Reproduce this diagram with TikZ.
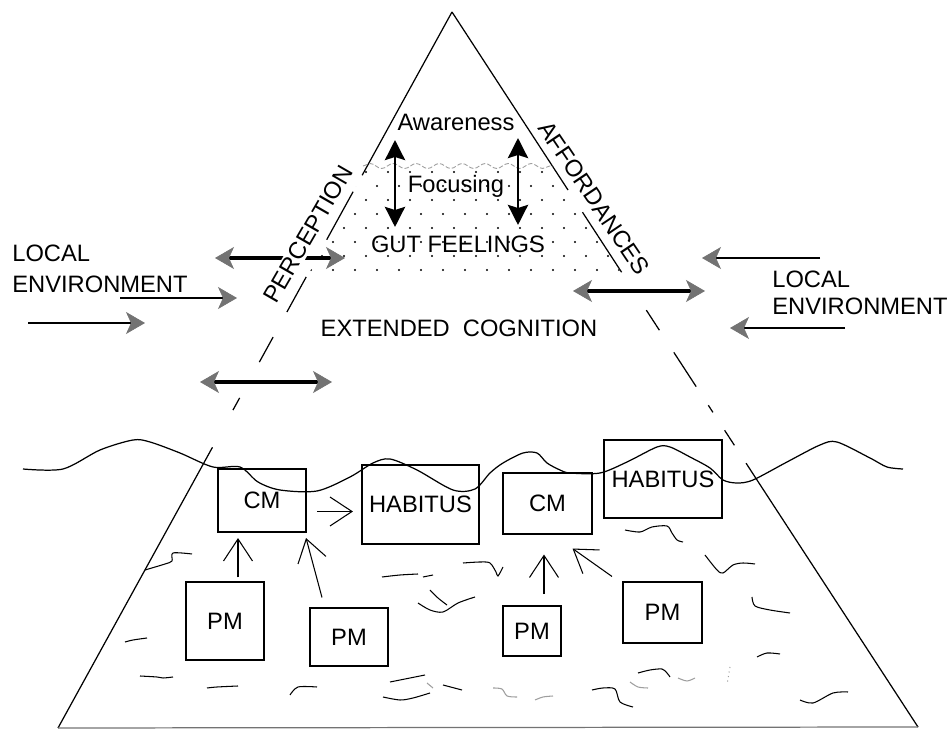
\documentclass[tikz,border=0pt]{standalone}
\usepackage{fontspec}
\setmainfont{Liberation Sans}
\usetikzlibrary{arrows.meta,calc,decorations.pathmorphing}
\definecolor{headgray}{gray}{0.45}
\definecolor{fadegray}{gray}{0.62}

\begin{document}
\begin{tikzpicture}[x=0.02cm,y=-0.02cm,
  lbl/.style={font=\fontsize{13.5}{16}\selectfont, inner sep=0pt},
  box/.style={draw, lbl, line width=0.6pt, minimum width=#1},
  boldbox/.style={box=#1, line width=1.2pt},
  gtip/.tip={Stealth[length=0.38cm,width=0.44cm,inset=0.1cm,color=headgray,line width=0.4pt]},
  btip/.tip={Stealth[length=0.4cm,width=0.4cm,inset=0.06cm]},
  twoway/.style={{gtip}-{gtip}, line width=2.3pt},
  inflow/.style={-{gtip}, line width=1.5pt},
  thinflow/.style={-{gtip}, line width=0.75pt},
  focusarrow/.style={{btip}-{btip}, line width=1.7pt},
  barb/.style={-{Straight Barb[length=0.44cm,width=0.58cm]}, line width=0.6pt},
  edge/.style={line width=0.7pt},
  scrawl/.style={line width=0.6pt},
  fadescrawl/.style={line width=0.6pt, fadegray}]
  \useasboundingbox (0,0) rectangle (948,729);

  % Pyramid outline
  \coordinate (apex) at (452,12);
  \coordinate (bl) at (58,728);
  \coordinate (br) at (918,727);
  \foreach \s/\e in {0/0.228, 0.251/0.318, 0.370/0.419, 0.454/0.489, 0.539/0.556, 0.608/1}
    \draw[edge] ($(apex)!\s!(bl)$) -- ($(apex)!\e!(bl)$);
  \foreach \s/\e in {0/0.249, 0.280/0.364, 0.417/0.445, 0.476/0.524, 0.550/0.560, 0.585/0.606, 0.631/1}
    \draw[edge] ($(apex)!\s!(br)$) -- ($(apex)!\e!(br)$);
  \draw[edge, headgray] (bl) -- (br);

  % Stippled gut-feeling band
  \begin{scope}
    \clip (366,168) -- (554,168) -- (625,279) -- (306,279) -- cycle;
    \foreach \r in {0,...,7}
      \foreach \c in {0,...,15}
        \fill ({300+22*\c+11*mod(\r,2)},{172+14*\r}) circle (0.6pt);
  \end{scope}
  \coordinate (wl) at (363,166);
  \coordinate (wr) at (553,166);
  \draw[fadegray, line width=0.5pt, dash pattern=on 2.5pt off 1.2pt, decorate,
    decoration={snake, amplitude=0.05cm, segment length=0.46cm}] (wl) -- (wr);

  % Top labels
  \node[lbl, anchor=base] (aware) at (456,131) {Awareness};
  \node[lbl, anchor=base] (focus) at (456,193) {Focusing};
  \node[lbl, anchor=base] (gut) at (458,253) {GUT FEELINGS};
  \node[lbl, anchor=base] (ext) at (459,337) {EXTENDED\hspace{0.55em}COGNITION};

  \coordinate (f1a) at (395,140);
  \coordinate (f1b) at (395,227);
  \coordinate (f2a) at (518,138);
  \coordinate (f2b) at (518,225);
  \draw[focusarrow] (f1a) -- (f1b);
  \draw[focusarrow] (f2a) -- (f2b);

  % Flows from the environment
  \coordinate (p1a) at (215,258);
  \coordinate (p1b) at (345,258);
  \coordinate (p2a) at (120,298);
  \coordinate (p2b) at (237,298);
  \coordinate (p3a) at (28,323);
  \coordinate (p3b) at (145,323);
  \coordinate (p4a) at (200,382);
  \coordinate (p4b) at (332,382);
  \draw[twoway] (p1a) -- (p1b);
  \draw[inflow] (p2a) -- (p2b);
  \draw[thinflow] (p3a) -- (p3b);
  \draw[twoway] (p4a) -- (p4b);

  \coordinate (a1a) at (573,291);
  \coordinate (a1b) at (705,291);
  \coordinate (a2a) at (820,258);
  \coordinate (a2b) at (702,258);
  \coordinate (a3a) at (845,328);
  \coordinate (a3b) at (730,328);
  \draw[twoway] (a1a) -- (a1b);
  \draw[thinflow] (a2a) -- (a2b);
  \draw[inflow] (a3a) -- (a3b);

  \node[lbl, rotate=60, fill=white, inner sep=1pt] (percep) at (308,234) {PERCEPTION};
  \node[lbl, rotate=-56] (afford) at (594,198) {AFFORDANCES};

  \node[lbl, align=left, anchor=west, font=\fontsize{13.5}{17.6}\selectfont] (envl) at (12,269) {LOCAL\\ENVIRONMENT};
  \node[lbl, align=left, anchor=west, font=\fontsize{13.5}{15.3}\selectfont] (envr) at (772,293) {LOCAL\\ENVIRONMENT};

  % Waterline
  \draw[line width=0.7pt] plot[smooth, tension=0.5] coordinates {(23,469) (63,469) (100,450) (133,440) (150,442)
    (180,453) (213,467) (240,467) (258,482) (280,490) (317,491) (350,477) (373,463) (390,459) (417,470)
    (453,490) (475,489) (490,473) (503,463) (523,453) (537,453) (547,463) (560,470) (570,473) (600,473)
    (627,462) (657,447) (670,447) (690,457) (710,468) (723,480) (737,483) (753,480) (787,462) (820,445)
    (837,442) (870,458) (887,467) (903,469)};

  % Submerged boxes
  \node[boldbox=1.76cm, minimum height=1.26cm] (cm1) at (262,500.5) {CM};
  \node[boldbox=2.34cm, minimum height=1.58cm] (hab1) at (420.5,504.5) {HABITUS};
  \node[box=1.78cm, minimum height=1.22cm] (cm2) at (547.5,503.5) {CM};
  \node[box=2.36cm, minimum height=1.56cm] (hab2) at (663,479) {HABITUS};
  \node[box=1.56cm, minimum height=1.56cm] (pm1) at (225,621) {PM};
  \node[box=1.56cm, minimum height=1.16cm] (pm2) at (349,637) {PM};
  \node[box=1.16cm, minimum height=1.0cm, line width=0.9pt] (pm3) at (532,631) {PM};
  \node[box=1.58cm, minimum height=1.22cm] (pm4) at (662.5,612.5) {PM};

  \draw[barb] ($(cm1.east)+(10,11)$) -- ($(hab1.west)+(-8,7)$);
  \draw[barb] ($(pm1.north)+(13,-4)$) -- ($(cm1.south)+(-24,5)$);
  \draw[barb] ($(pm2.north)+(-27,-10)$) -- ($(cm1.south east)+(-1,5)$);
  \draw[barb] ($(pm3.north)+(12,-11)$) -- ($(cm2.south)+(-3.5,20)$);
  \draw[barb] ($(pm4.north)+(-50.5,-5)$) -- ($(cm2.south east)+(-20,14)$);

  % Scrawls below the waterline
  \draw[scrawl] plot[smooth] coordinates {(145,570) (165,564) (172,561) (173,553) (192,554)};
  \draw[scrawl] plot[smooth] coordinates {(125,642) (133,640) (147,638)};
  \draw[scrawl] plot[smooth] coordinates {(140,676) (157,677) (163,678) (173,677)};
  \draw[scrawl] plot[smooth] coordinates {(207,688) (217,687) (238,686)};
  \draw[scrawl] plot[smooth] coordinates {(290,695) (298,687) (317,687)};
  \draw[scrawl] plot[smooth] coordinates {(382,577) (400,575) (418,574)};
  \draw[scrawl] plot[smooth] coordinates {(423,577) (433,575)};
  \draw[scrawl] plot[smooth] coordinates {(418,603) (430,610) (443,612) (458,603) (475,597)};
  \draw[scrawl] plot[smooth] coordinates {(430,590) (438,598) (447,605)};
  \draw[scrawl] plot[smooth] coordinates {(390,682) (410,678) (425,675)};
  \draw[scrawl] plot[smooth] coordinates {(443,685) (462,690)};
  \draw[scrawl] plot[smooth] coordinates {(383,697) (400,700) (413,698) (430,693)};
  \draw[scrawl] plot[smooth] coordinates {(463,563) (480,562) (490,563) (496,572) (498,576) (503,567)};
  \draw[scrawl] plot[smooth] coordinates {(625,530) (640,532) (652,527) (667,526) (672,533) (677,540) (683,542)};
  \draw[scrawl] plot[smooth] coordinates {(705,555) (717,570) (723,573) (733,565) (743,563) (755,564)};
  \draw[scrawl] plot[smooth] coordinates {(752,597) (755,606) (770,610) (790,613)};
  \draw[scrawl] plot[smooth] coordinates {(638,673) (650,670) (662,669) (667,673) (670,677)};
  \draw[scrawl] plot[smooth] coordinates {(592,690) (603,688) (615,689) (620,702) (633,707)};
  \draw[scrawl] plot[smooth] coordinates {(800,700) (813,703) (833,693) (848,692)};
  \draw[scrawl] plot[smooth] coordinates {(757,657) (767,653) (780,654)};
  \draw[fadescrawl] plot[smooth] coordinates {(427,683) (433,688)};
  \draw[fadescrawl] plot[smooth] coordinates {(493,688) (502,689) (507,696) (517,697)};
  \draw[fadescrawl] plot[smooth] coordinates {(535,700) (543,697) (553,696)};
  \draw[fadescrawl] plot[smooth] coordinates {(630,682) (638,687) (648,688)};
  \draw[fadescrawl] plot[smooth] coordinates {(678,678) (687,681) (695,678)};
  \draw[fadescrawl, dotted] (730,667) -- (727,685);
\end{tikzpicture}
\end{document}
